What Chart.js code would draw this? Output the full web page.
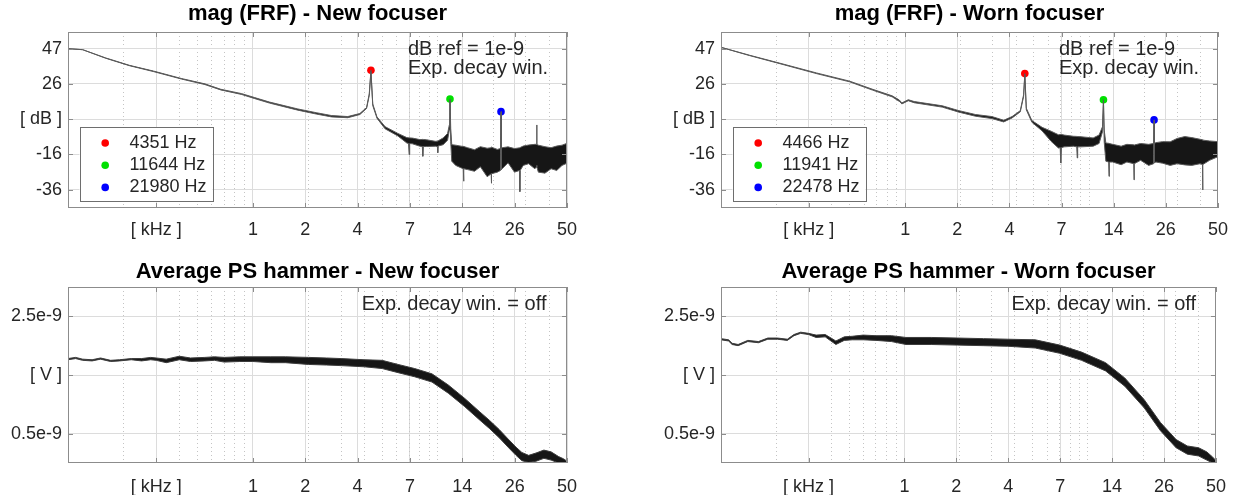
<!DOCTYPE html>
<html>
<head>
<meta charset="utf-8">
<script src="https://cdn.jsdelivr.net/npm/chart.js@4.4.1/dist/chart.umd.min.js"></script>
<style>
  body { margin: 0; background: #fff; overflow: hidden; }
  .panel { position: absolute; }
</style>
</head>
<body>
<div class="panel" style="left:0;top:0"><canvas id="frfNew" width="620" height="250"></canvas></div>
<div class="panel" style="left:620px;top:0"><canvas id="frfWorn" width="619" height="250"></canvas></div>
<div class="panel" style="left:0;top:250px"><canvas id="psNew" width="620" height="245"></canvas></div>
<div class="panel" style="left:620px;top:250px"><canvas id="psWorn" width="619" height="245"></canvas></div>
<script>
// ====== x axis (kHz, log) =========
const xMajorTicks = [0.3, 1, 1.919, 3.684, 7.07, 13.57, 26.05, 50];
const xMajorLabels = ["[ kHz ]", "1", "2", "4", "7", "14", "26", "50"];
const xMinorTicks = [0.2, 0.4, 0.5, 0.6, 0.7, 0.8, 0.9, 2, 3, 4, 5, 6, 7, 8, 9, 10, 20, 30, 40];

// ====== y axes =========
const dbTicks = [-36.4, -15.5, 5.45, 26.4, 47.3];
const dbLabels = ["-36", "-16", "[ dB ]", "26", "47"];
const vTicks = [0.5, 1.5, 2.5]; // x 1e-9
const vLabels = ["0.5e-9", "[ V ]", "2.5e-9"];

// ====== mag (FRF) - New focuser =========
const frfNewFreq = [0.100, 0.120, 0.160, 0.215, 0.290, 0.410, 0.550, 0.670, 0.870, 1.02, 1.23, 1.75, 2.20, 2.66, 3.26, 3.79, 4.12, 4.26, 4.351, 4.45, 4.69, 5.19, 6.08, 6.80, 6.95, 7.00, 7.05, 7.30, 8.00, 8.25, 8.30, 8.35, 8.70, 9.70, 9.95, 10.0, 10.05, 10.7, 11.3, 11.55, 11.644, 11.75, 11.9, 12.5, 13.4, 13.75, 13.8, 13.85, 14.5, 15.8, 17.0, 18.5, 19.45, 19.5, 19.55, 21.0, 21.85, 21.98, 22.1, 22.3, 24.0, 26.0, 27.7, 27.8, 27.9, 29.0, 31.0, 33.5, 34.2, 34.3, 34.4, 35.0, 38.0, 41.0, 44.0, 47.0, 50.0];
const frfNewUpper = [47.3, 46.7, 41.8, 37.4, 34.0, 29.6, 26.4, 23.2, 20.6, 18.3, 15.6, 11.5, 9.3, 7.6, 7.0, 8.8, 12.3, 20.5, 34.5, 14.5, 6.8, 1.0, -3.0, -5.5, -5.6, -5.6, -5.7, -5.8, -6.7, -6.6, -6.5, -6.6, -6.8, -7.7, -7.6, -7.5, -7.4, -5.7, -3.0, 2.0, 17.4, 0.0, -9.7, -10.0, -10.6, -10.7, -10.8, -10.8, -11.5, -12.7, -10.9, -11.8, -11.5, -11.0, -11.2, -12.5, -12.0, 9.9, -11.8, -11.5, -11.0, -12.0, -11.6, -11.5, -11.4, -10.5, -9.9, -9.5, -9.5, 2.0, -9.6, -10.0, -10.9, -11.5, -10.5, -10.0, -8.9];
const frfNewLower = [47.3, 46.7, 41.6, 37.2, 33.7, 29.3, 26.0, 22.8, 20.1, 17.7, 15.0, 10.8, 8.5, 6.8, 6.3, 8.2, 11.8, 19.5, 33.5, 13.5, 6.0, -0.3, -4.5, -8.7, -9.0, -15.6, -9.0, -9.2, -10.6, -10.8, -16.6, -10.8, -10.8, -10.6, -10.8, -14.5, -10.5, -9.7, -7.0, -1.0, 16.0, -8.0, -19.5, -22.0, -23.5, -24.0, -31.4, -24.0, -24.5, -25.5, -22.8, -28.7, -27.0, -32.6, -27.0, -26.0, -25.0, 8.5, -24.5, -24.0, -20.5, -26.0, -25.0, -37.6, -25.0, -22.0, -21.0, -24.0, -23.0, -22.0, -23.0, -26.0, -26.6, -24.0, -25.0, -22.0, -20.7];
const peakNewFreq = [4.351, 11.644, 21.98];
const peakNewDb = [34.5, 17.4, 9.9];
const peakNewLabels = ["4351 Hz", "11644 Hz", "21980 Hz"];

// ====== mag (FRF) - Worn focuser =========
const frfWornFreq = [0.100, 0.143, 0.217, 0.330, 0.500, 0.665, 0.85, 0.93, 0.96, 1.04, 1.12, 1.59, 1.96, 2.41, 2.96, 3.43, 3.81, 4.22, 4.40, 4.466, 4.55, 4.88, 5.54, 6.20, 6.80, 6.95, 7.00, 7.05, 7.30, 8.20, 8.55, 8.60, 8.65, 9.00, 10.5, 11.3, 11.8, 11.941, 12.05, 12.3, 12.75, 12.8, 12.85, 13.4, 14.9, 16.0, 17.45, 17.5, 17.55, 19.0, 21.0, 22.35, 22.478, 22.6, 23.0, 25.0, 27.5, 30.0, 33.0, 36.0, 40.0, 41.2, 41.3, 41.4, 45.0, 50.0];
const frfWornUpper = [48.1, 43.4, 38.2, 32.9, 28.0, 23.2, 19.3, 16.8, 15.1, 17.0, 15.9, 13.4, 10.5, 8.2, 7.0, 4.8, 7.0, 10.5, 20.0, 32.5, 12.0, 4.6, 0.6, -1.7, -3.8, -3.7, -3.5, -3.6, -4.0, -4.7, -4.8, -4.8, -4.9, -5.0, -5.7, -4.0, 1.0, 17.0, -1.0, -8.7, -8.9, -9.0, -9.0, -9.5, -10.6, -9.5, -9.8, -10.0, -9.9, -9.0, -9.5, -9.0, 5.0, -8.8, -8.5, -7.9, -8.0, -6.0, -4.9, -5.5, -6.5, -6.8, -7.0, -7.0, -7.5, -7.9];
const frfWornLower = [48.1, 43.2, 37.9, 32.5, 27.6, 22.7, 18.7, 16.0, 14.5, 16.4, 15.2, 12.6, 9.6, 7.2, 5.8, 3.8, 6.2, 9.8, 19.0, 31.5, 11.0, 3.6, -1.5, -7.7, -11.7, -11.5, -20.6, -11.5, -11.0, -10.6, -11.0, -17.6, -11.0, -11.0, -10.6, -9.0, -2.0, 15.5, -8.0, -19.5, -20.0, -28.5, -20.0, -20.0, -21.6, -20.0, -21.0, -30.6, -21.0, -19.0, -22.0, -21.0, 3.5, -20.5, -20.0, -20.7, -22.0, -21.0, -21.7, -22.0, -21.0, -21.5, -36.6, -21.5, -19.0, -16.8];
const peakWornFreq = [4.466, 11.941, 22.478];
const peakWornDb = [32.5, 17.0, 5.0];
const peakWornLabels = ["4466 Hz", "11941 Hz", "22478 Hz"];

const peakColors = ["#ff0000", "#00e000", "#0000ff"];

// ====== Average PS hammer (values x 1e-9 V) =========
const psNewFreq = [0.10, 0.11, 0.12, 0.135, 0.15, 0.17, 0.19, 0.22, 0.25, 0.28, 0.30, 0.34, 0.40, 0.46, 0.55, 0.62, 0.70, 0.85, 1.0, 1.25, 1.5, 2.0, 2.5, 3.0, 4.0, 5.0, 6.1, 7.5, 9.3, 11.4, 14.0, 16.9, 19.0, 21.5, 24.0, 26.5, 28.5, 31.0, 34.0, 37.5, 41.0, 45.0, 48.0, 50.0];
const psNewUpper = [1.78, 1.80, 1.77, 1.76, 1.79, 1.75, 1.76, 1.78, 1.78, 1.80, 1.79, 1.77, 1.82, 1.79, 1.80, 1.81, 1.80, 1.81, 1.81, 1.81, 1.81, 1.80, 1.79, 1.78, 1.76, 1.75, 1.68, 1.61, 1.52, 1.33, 1.10, 0.87, 0.73, 0.57, 0.41, 0.27, 0.18, 0.13, 0.17, 0.22, 0.19, 0.11, 0.07, 0.03];
const psNewLower = [1.76, 1.78, 1.75, 1.74, 1.77, 1.73, 1.74, 1.76, 1.74, 1.76, 1.75, 1.71, 1.76, 1.73, 1.74, 1.75, 1.72, 1.73, 1.73, 1.71, 1.71, 1.68, 1.67, 1.66, 1.64, 1.61, 1.54, 1.47, 1.38, 1.19, 0.96, 0.73, 0.59, 0.43, 0.27, 0.13, 0.04, 0.01, 0.03, 0.08, 0.05, 0.0, 0.0, 0.0];

const psWornFreq = [0.10, 0.11, 0.115, 0.124, 0.14, 0.16, 0.18, 0.203, 0.23, 0.25, 0.272, 0.30, 0.33, 0.37, 0.423, 0.47, 0.52, 0.596, 0.70, 0.85, 1.02, 1.4, 1.94, 2.7, 3.66, 5.17, 7.03, 9.25, 12.5, 15.9, 20.3, 24.9, 30.3, 34.9, 40.2, 44.5, 48.0, 50.0];
const psWornUpper = [2.12, 2.10, 2.04, 2.02, 2.09, 2.07, 2.13, 2.13, 2.11, 2.19, 2.23, 2.21, 2.18, 2.19, 2.08, 2.15, 2.16, 2.18, 2.17, 2.17, 2.14, 2.14, 2.13, 2.12, 2.11, 2.10, 2.01, 1.89, 1.71, 1.45, 1.08, 0.69, 0.40, 0.29, 0.26, 0.19, 0.10, 0.04];
const psWornLower = [2.10, 2.08, 2.02, 2.00, 2.07, 2.05, 2.11, 2.11, 2.09, 2.17, 2.21, 2.19, 2.14, 2.15, 2.02, 2.09, 2.10, 2.10, 2.09, 2.07, 2.02, 2.02, 2.01, 2.00, 1.99, 1.96, 1.87, 1.75, 1.57, 1.31, 0.94, 0.55, 0.26, 0.15, 0.12, 0.05, 0.0, 0.0];

const FONT = "'Liberation Sans', Arial, Helvetica, sans-serif";
Chart.defaults.font.family = FONT;
Chart.defaults.color = "#262626";

// box round the plot, inward tick marks, text notes, peak legend
const frameAndNotes = {
  id: "frameAndNotes",
  afterDraw(chart, args, opts) {
    const ctx = chart.ctx;
    const a = chart.chartArea;
    const xs = chart.scales.x;
    const ys = chart.scales.y;
    ctx.save();
    ctx.strokeStyle = "#8c8c8c";
    ctx.lineWidth = 1;
    ctx.beginPath();
    xs.ticks.forEach((t) => {
      const px = Math.round(xs.getPixelForValue(t.value)) + 0.5;
      ctx.moveTo(px, a.bottom);
      ctx.lineTo(px, a.bottom - 5);
      ctx.moveTo(px, a.top);
      ctx.lineTo(px, a.top + 5);
    });
    ys.ticks.forEach((t) => {
      const py = Math.round(ys.getPixelForValue(t.value)) + 0.5;
      ctx.moveTo(a.left, py);
      ctx.lineTo(a.left + 5, py);
      ctx.moveTo(a.right, py);
      ctx.lineTo(a.right - 5, py);
    });
    ctx.stroke();
    ctx.strokeRect(Math.round(a.left) + 0.5, Math.round(a.top) + 0.5, Math.round(a.width) - 1, Math.round(a.height) - 1);

    ctx.fillStyle = "#262626";
    ctx.font = "20px " + FONT;
    ctx.textBaseline = "middle";
    ctx.textAlign = "left";
    opts.lines.forEach((s, i) => {
      ctx.fillText(s, a.right - opts.fromRight, a.top + 17.7 + i * 18.3);
    });

    if (opts.legend) {
      const bx = a.left + 11.5;
      const by = a.top + 95.3;
      ctx.fillStyle = "#fff";
      ctx.fillRect(bx, by, 133, 74.7);
      ctx.strokeStyle = "#6e6e6e";
      ctx.strokeRect(Math.round(bx) + 0.5, Math.round(by) + 0.5, 133, 74);
      ctx.font = "18px " + FONT;
      chart.data.datasets.forEach((ds) => {
        if (!ds.isPeak) return;
        const k = ds.peakIndex;
        const ry = by + 15.7 + k * 22.2;
        ctx.fillStyle = ds.pointBackgroundColor;
        ctx.beginPath();
        ctx.arc(bx + 25.7, ry, 3.8, 0, Math.PI * 2);
        ctx.fill();
        ctx.fillStyle = "#262626";
        ctx.fillText(ds.label, bx + 50, ry);
      });
    }
    ctx.restore();
  },
};

function bandSets(freq, upper, lower, lineColor) {
  return [
    {
      data: freq.map((f, i) => ({ x: f, y: upper[i] })),
      borderColor: lineColor,
      borderWidth: 1,
      pointRadius: 0,
      fill: false,
    },
    {
      data: freq.map((f, i) => ({ x: f, y: lower[i] })),
      borderColor: lineColor,
      borderWidth: 1,
      pointRadius: 0,
      fill: "-1",
      backgroundColor: "#161616",
    },
  ];
}

function peakSets(freq, db, labels) {
  return freq.map((f, i) => ({
    label: labels[i],
    isPeak: true,
    peakIndex: i,
    data: [{ x: f, y: db[i] }],
    showLine: false,
    pointRadius: 3.8,
    pointBorderWidth: 0,
    pointBackgroundColor: peakColors[i],
    pointBorderColor: peakColors[i],
  }));
}

function makePanel(id, cfg) {
  const ctx = document.getElementById(id).getContext("2d");
  return new Chart(ctx, {
    type: "line",
    data: { datasets: cfg.datasets },
    options: {
      responsive: false,
      animation: false,
      layout: { padding: { left: cfg.padLeft, right: cfg.padRight, top: 0, bottom: 0 } },
      plugins: {
        legend: { display: false },
        tooltip: { enabled: false },
        title: {
          display: true,
          text: cfg.title,
          fullSize: false,
          color: "#000",
          font: { size: 22, weight: "bold", lineHeight: 1.2 },
          padding: cfg.titlePad,
        },
        frameAndNotes: { lines: cfg.notes, fromRight: cfg.notesFromRight, legend: cfg.legend },
      },
      scales: {
        x: {
          type: "logarithmic",
          min: 0.1,
          max: 50,
          afterBuildTicks: (axis) => {
            axis.ticks = xMajorTicks.map((v) => ({ value: v }));
          },
          afterFit: (axis) => {
            axis.height = cfg.xAxisHeight;
          },
          ticks: {
            autoSkip: false,
            maxRotation: 0,
            padding: cfg.xLabelPad,
            color: "#262626",
            font: { size: 18 },
            callback: (v, i) => xMajorLabels[i],
          },
          grid: { color: "#dcdcdc", drawTicks: false },
          border: { display: false },
        },
        xMinor: {
          type: "logarithmic",
          position: "bottom",
          min: 0.1,
          max: 50,
          afterBuildTicks: (axis) => {
            axis.ticks = xMinorTicks.map((v) => ({ value: v }));
          },
          afterFit: (axis) => {
            axis.height = 0;
          },
          ticks: { display: false },
          grid: { color: "#c4c4c4", drawTicks: false },
          border: { display: false, dash: [1, 3] },
        },
        y: {
          type: "linear",
          min: cfg.yMin,
          max: cfg.yMax,
          afterBuildTicks: (axis) => {
            axis.ticks = cfg.yTicks.map((v) => ({ value: v }));
          },
          afterFit: (axis) => {
            axis.width = 68;
          },
          ticks: {
            padding: 6,
            color: "#262626",
            font: { size: 18 },
            callback: (v, i) => cfg.yLabels[i],
          },
          grid: { color: "#dcdcdc", drawTicks: false },
          border: { display: false },
        },
      },
    },
    plugins: [frameAndNotes],
  });
}

makePanel("frfNew", {
  title: "mag (FRF) - New focuser",
  titlePad: { top: 0.8, bottom: 4.8 },
  padLeft: 0,
  padRight: 53,
  xAxisHeight: 42,
  xLabelPad: 11,
  yMin: -47.3,
  yMax: 57.2,
  yTicks: dbTicks,
  yLabels: dbLabels,
  notes: ["dB ref = 1e-9", "Exp. decay win."],
  notesFromRight: 159,
  legend: true,
  datasets: bandSets(frfNewFreq, frfNewUpper, frfNewLower, "#5a5a5a").concat(peakSets(peakNewFreq, peakNewDb, peakNewLabels)),
});

makePanel("frfWorn", {
  title: "mag (FRF) - Worn focuser",
  titlePad: { top: 0.8, bottom: 4.8 },
  padLeft: 33,
  padRight: 19,
  xAxisHeight: 42,
  xLabelPad: 11,
  yMin: -47.3,
  yMax: 57.2,
  yTicks: dbTicks,
  yLabels: dbLabels,
  notes: ["dB ref = 1e-9", "Exp. decay win."],
  notesFromRight: 159,
  legend: true,
  datasets: bandSets(frfWornFreq, frfWornUpper, frfWornLower, "#5a5a5a").concat(peakSets(peakWornFreq, peakWornDb, peakWornLabels)),
});

makePanel("psNew", {
  title: "Average PS hammer - New focuser",
  titlePad: { top: 8.8, bottom: 1.8 },
  padLeft: 0,
  padRight: 53,
  xAxisHeight: 32,
  xLabelPad: 13,
  yMin: 0,
  yMax: 3,
  yTicks: vTicks,
  yLabels: vLabels,
  notes: ["Exp. decay win. = off"],
  notesFromRight: 205.3,
  legend: false,
  datasets: bandSets(psNewFreq, psNewUpper, psNewLower, "#3c3c3c"),
});

makePanel("psWorn", {
  title: "Average PS hammer - Worn focuser",
  titlePad: { top: 8.8, bottom: 1.8 },
  padLeft: 33,
  padRight: 19,
  xAxisHeight: 32,
  xLabelPad: 13,
  yMin: 0,
  yMax: 3,
  yTicks: vTicks,
  yLabels: vLabels,
  notes: ["Exp. decay win. = off"],
  notesFromRight: 204.6,
  legend: false,
  datasets: bandSets(psWornFreq, psWornUpper, psWornLower, "#3c3c3c"),
});
</script>
</body>
</html>
